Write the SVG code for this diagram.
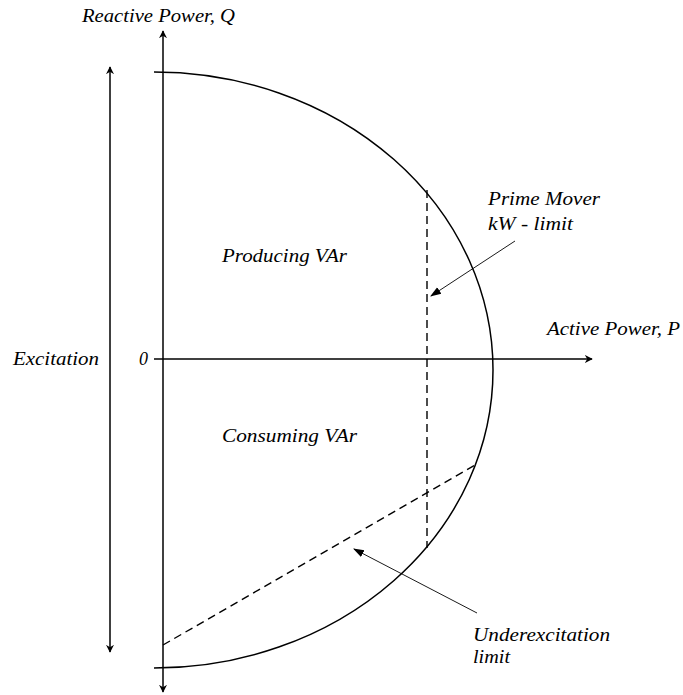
<svg xmlns="http://www.w3.org/2000/svg" width="683" height="695" viewBox="0 0 683 695">
<style>
.t{font-family:"Liberation Serif",serif;font-style:italic;font-size:18px;fill:#000}
.ax{stroke:#000;stroke-width:1.5;fill:none}
.dash{stroke:#000;stroke-width:1.4;fill:none;stroke-dasharray:8,5}
.thin{stroke:#000;stroke-width:0.9;fill:none}
</style>
<defs>
<marker id="ah" viewBox="0 0 10 10" refX="9" refY="5" markerWidth="8" markerHeight="8" markerUnits="userSpaceOnUse" orient="auto-start-reverse"><path d="M0,0 L10,5 L0,10 L3,5 z" fill="#000"/></marker>
<marker id="ah2" viewBox="0 0 10 10" refX="9" refY="5" markerWidth="11" markerHeight="11" markerUnits="userSpaceOnUse" orient="auto"><path d="M0,1.5 L10,5 L0,8.5 z" fill="#000"/></marker>
</defs>
<rect width="683" height="695" fill="#fff"/>
<g id="connectors">
<line class="ax" x1="163" y1="31" x2="163" y2="692" marker-start="url(#ah)" marker-end="url(#ah)"/>
<line class="ax" x1="110" y1="67" x2="110" y2="652" marker-start="url(#ah)" marker-end="url(#ah)"/>
<line class="ax" x1="154" y1="359" x2="592" y2="359" marker-end="url(#ah)"/>
<path class="ax" d="M154,72 A339,298 0 0 1 154,668"/>
<line class="dash" x1="427" y1="190" x2="427" y2="548"/>
<line class="dash" x1="163" y1="645" x2="477" y2="464"/>
<line class="thin" x1="515" y1="241" x2="431" y2="296" marker-end="url(#ah2)"/>
<line class="thin" x1="477" y1="613" x2="354" y2="549" marker-end="url(#ah2)"/>
</g>
<g id="label-q"><text class="t" x="82" y="22" textLength="153" lengthAdjust="spacingAndGlyphs">Reactive Power, Q</text></g>
<g id="label-p"><text class="t" x="547" y="335" textLength="133" lengthAdjust="spacingAndGlyphs">Active Power, P</text></g>
<g id="label-excitation"><text class="t" x="13" y="365" textLength="86" lengthAdjust="spacingAndGlyphs">Excitation</text></g>
<g id="label-zero"><text class="t" x="139" y="365">0</text></g>
<g id="label-producing"><text class="t" x="222" y="262" textLength="125" lengthAdjust="spacingAndGlyphs">Producing VAr</text></g>
<g id="label-consuming"><text class="t" x="222" y="442" textLength="135" lengthAdjust="spacingAndGlyphs">Consuming VAr</text></g>
<g id="label-prime"><text class="t" x="488" y="205" textLength="112" lengthAdjust="spacingAndGlyphs">Prime Mover</text><text class="t" x="488" y="230" textLength="85" lengthAdjust="spacingAndGlyphs">kW - limit</text></g>
<g id="label-under"><text class="t" x="473" y="641" textLength="137" lengthAdjust="spacingAndGlyphs">Underexcitation</text><text class="t" x="473" y="663" textLength="37" lengthAdjust="spacingAndGlyphs">limit</text></g>
</svg>
